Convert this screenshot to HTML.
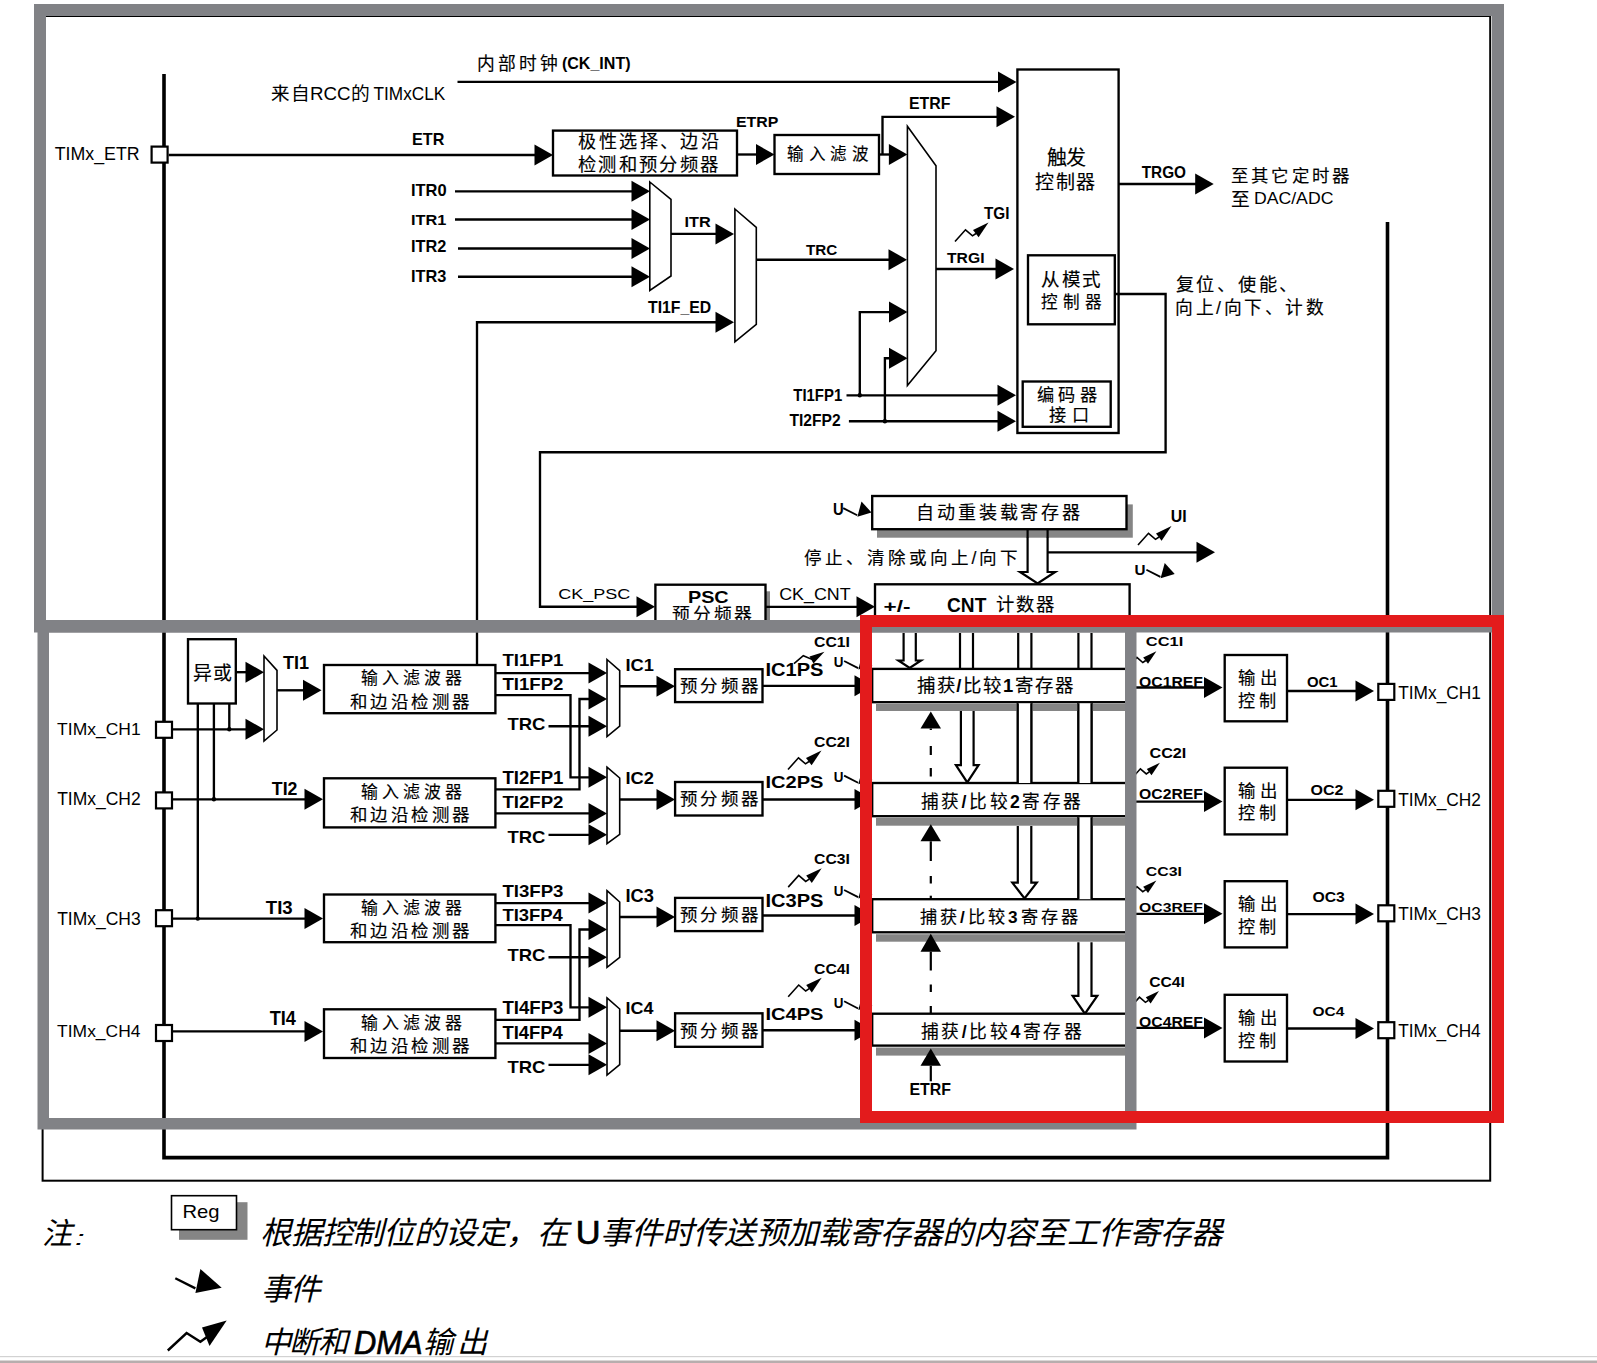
<!DOCTYPE html>
<html lang="zh-CN"><head><meta charset="utf-8"><title>TIMx block diagram</title>
<style>
html,body{margin:0;padding:0;background:#fff;}
body{width:1597px;height:1363px;overflow:hidden;}
svg{display:block;font-family:"Liberation Sans",sans-serif;}
text{fill:#000;}
</style></head><body>
<svg width="1597" height="1363" viewBox="0 0 1597 1363">
<rect width="1597" height="1363" fill="#fff"/>
<path d="M164,74 V1157.6 H1387.5 V222" fill="none" stroke="#000" stroke-width="3.6"/>
<path d="M168.7,155.0 L535.0,155.0" fill="none" stroke="#000" stroke-width="2.35"/>
<polygon points="553.0,155.0 534.5,144.5 534.5,165.5" fill="#000"/>
<rect x="151.6" y="146.6" width="16" height="16" fill="#fff" stroke="#000" stroke-width="2.2"/>
<path d="M457.5,81.9 L1000.0,81.9" fill="none" stroke="#000" stroke-width="2.35"/>
<polygon points="1016.5,81.9 998.0,71.4 998.0,92.4" fill="#000"/>
<rect x="553.0" y="130.6" width="184.0" height="44.9" fill="#fff" stroke="#000" stroke-width="2.35"/>
<path d="M737.0,154.5 L758.0,154.5" fill="none" stroke="#000" stroke-width="2.35"/>
<polygon points="774.5,154.5 756.0,144.0 756.0,165.0" fill="#000"/>
<rect x="774.5" y="135.0" width="104.5" height="39.0" fill="#fff" stroke="#000" stroke-width="2.35"/>
<path d="M879.0,154.5 L891.0,154.5" fill="none" stroke="#000" stroke-width="2.35"/>
<polygon points="907.4,154.5 888.9,144.0 888.9,165.0" fill="#000"/>
<path d="M882.5,154.5 L882.5,116.8 L998.0,116.8" fill="none" stroke="#000" stroke-width="2.35"/>
<polygon points="1015.0,116.8 996.5,106.3 996.5,127.3" fill="#000"/>
<path d="M455.0,191.3 L634.0,191.3" fill="none" stroke="#000" stroke-width="2.35"/>
<polygon points="650.0,191.3 631.5,180.8 631.5,201.8" fill="#000"/>
<path d="M455.0,219.5 L634.0,219.5" fill="none" stroke="#000" stroke-width="2.35"/>
<polygon points="650.0,219.5 631.5,209.0 631.5,230.0" fill="#000"/>
<path d="M458.0,248.5 L634.0,248.5" fill="none" stroke="#000" stroke-width="2.35"/>
<polygon points="650.0,248.5 631.5,238.0 631.5,259.0" fill="#000"/>
<path d="M458.0,276.7 L634.0,276.7" fill="none" stroke="#000" stroke-width="2.35"/>
<polygon points="650.0,276.7 631.5,266.2 631.5,287.2" fill="#000"/>
<polygon points="649.8,182 671,199.5 671,276 649.8,290.5" fill="#fff" stroke="#000" stroke-width="1.6"/>
<path d="M671.0,233.9 L717.0,233.9" fill="none" stroke="#000" stroke-width="2.35"/>
<polygon points="734.0,233.9 715.5,223.4 715.5,244.4" fill="#000"/>
<path d="M477.0,665.0 L477.0,322.2 L717.0,322.2" fill="none" stroke="#000" stroke-width="2.35"/>
<polygon points="734.0,322.2 715.5,311.7 715.5,332.7" fill="#000"/>
<polygon points="734.9,209 756.3,227.4 756.3,324.3 734.9,341.9" fill="#fff" stroke="#000" stroke-width="1.6"/>
<path d="M756.3,259.7 L890.0,259.7" fill="none" stroke="#000" stroke-width="2.35"/>
<polygon points="907.0,259.7 888.5,249.2 888.5,270.2" fill="#000"/>
<polygon points="907.4,126.2 936,165.8 936,350.7 907.4,385.5" fill="#fff" stroke="#000" stroke-width="1.6"/>
<path d="M936.0,269.0 L997.0,269.0" fill="none" stroke="#000" stroke-width="2.35"/>
<polygon points="1014.0,269.0 995.5,258.5 995.5,279.5" fill="#000"/>
<path d="M955.0,241.5 L965.5,229.8 L972.5,235.8 L976.0,233.5" fill="none" stroke="#000" stroke-width="1.6" stroke-linejoin="miter"/>
<polygon points="988.5,222.6 973.0,229.9 978.6,237.3" fill="#000"/>
<path d="M846.5,395.3 L999.0,395.3" fill="none" stroke="#000" stroke-width="2.35"/>
<polygon points="1016.0,395.3 997.5,384.8 997.5,405.8" fill="#000"/>
<path d="M848.9,421.2 L999.0,421.2" fill="none" stroke="#000" stroke-width="2.35"/>
<polygon points="1016.0,421.2 997.5,410.7 997.5,431.7" fill="#000"/>
<path d="M859.8,395.3 L859.8,312.1 L891.0,312.1" fill="none" stroke="#000" stroke-width="2.35"/>
<polygon points="907.5,312.1 889.0,301.6 889.0,322.6" fill="#000"/>
<path d="M884.9,421.2 L884.9,358.2 L891.0,358.2" fill="none" stroke="#000" stroke-width="2.35"/>
<polygon points="907.5,358.2 889.0,347.7 889.0,368.7" fill="#000"/>
<circle cx="859.8" cy="395.3" r="2.2" fill="#000"/>
<circle cx="884.9" cy="421.2" r="2.2" fill="#000"/>
<rect x="1017.4" y="69.5" width="101.2" height="363.5" fill="#fff" stroke="#000" stroke-width="2.35"/>
<rect x="1028.0" y="255.3" width="86.8" height="69.0" fill="#fff" stroke="#000" stroke-width="2.35"/>
<rect x="1022.7" y="381.5" width="88.0" height="45.3" fill="#fff" stroke="#000" stroke-width="2.35"/>
<path d="M1118.6,184.0 L1196.0,184.0" fill="none" stroke="#000" stroke-width="2.35"/>
<polygon points="1213.7,184.0 1195.2,173.5 1195.2,194.5" fill="#000"/>
<path d="M1114.8,294.0 L1165.6,294.0 L1165.6,452.2 L540.0,452.2 L540.0,606.7 L638.0,606.7" fill="none" stroke="#000" stroke-width="2.35"/>
<polygon points="655.0,606.7 636.5,596.2 636.5,617.2" fill="#000"/>
<path d="M1027.6,529 L1027.6,572 L1020.0999999999999,572 L1037.6,583.4 L1055.1,572 L1047.6,572 L1047.6,529" fill="#fff" stroke="#000" stroke-width="2.2" stroke-linejoin="miter"/>
<rect x="877" y="504.4" width="255.79999999999995" height="33.30000000000007" fill="#858585"/>
<rect x="872.2" y="496.0" width="254.3" height="33.2" fill="#fff" stroke="#000" stroke-width="2.35"/>
<path d="M1027.6,529.0 L1027.6,538.0" fill="none" stroke="#000" stroke-width="2.2"/>
<path d="M1047.6,529.0 L1047.6,538.0" fill="none" stroke="#000" stroke-width="2.2"/>
<path d="M843.2,508.1 L857.2,515.2" fill="none" stroke="#000" stroke-width="1.8"/>
<polygon points="871.5,512.5 861.5,501.4 857.4,516.7" fill="#000"/>
<path d="M1047.4,552.3 L1198.0,552.3" fill="none" stroke="#000" stroke-width="2.35"/>
<polygon points="1215.0,552.3 1196.5,541.8 1196.5,562.8" fill="#000"/>
<path d="M1138.0,545.0 L1148.5,533.3 L1155.5,539.3 L1159.0,537.0" fill="none" stroke="#000" stroke-width="1.6" stroke-linejoin="miter"/>
<polygon points="1171.5,526.1 1156.0,533.4 1161.6,540.8" fill="#000"/>
<path d="M1146.4,569.7 L1160.4,576.9" fill="none" stroke="#000" stroke-width="1.8"/>
<polygon points="1174.7,574.1 1164.7,563.0 1160.6,578.3" fill="#000"/>
<rect x="765.5" y="591.3" width="4.5" height="38.700000000000045" fill="#858585"/>
<rect x="655.4" y="584.7" width="110.1" height="45.3" fill="#fff" stroke="#000" stroke-width="2.35"/>
<path d="M765.5,606.8 L858.0,606.8" fill="none" stroke="#000" stroke-width="2.35"/>
<polygon points="875.0,606.8 856.5,596.3 856.5,617.3" fill="#000"/>
<rect x="875.0" y="584.3" width="254.6" height="45.7" fill="#fff" stroke="#000" stroke-width="2.35"/>
<rect x="188.0" y="639.2" width="47.8" height="64.3" fill="#fff" stroke="#000" stroke-width="2.35"/>
<path d="M235.8,672.2 L247.0,672.2" fill="none" stroke="#000" stroke-width="2.35"/>
<polygon points="264.0,672.2 245.5,661.7 245.5,682.7" fill="#000"/>
<path d="M197.8,703.5 L197.8,918.6" fill="none" stroke="#000" stroke-width="2.35"/>
<path d="M213.9,703.5 L213.9,799.3" fill="none" stroke="#000" stroke-width="2.35"/>
<path d="M229.3,703.5 L229.3,729.3" fill="none" stroke="#000" stroke-width="2.35"/>
<circle cx="197.8" cy="918.6" r="2.2" fill="#000"/>
<circle cx="213.9" cy="799.3" r="2.2" fill="#000"/>
<circle cx="229.3" cy="729.3" r="2.2" fill="#000"/>
<polygon points="264,656 277,670.4 277,730 264,741" fill="#fff" stroke="#000" stroke-width="1.6"/>
<path d="M277.0,690.3 L304.0,690.3" fill="none" stroke="#000" stroke-width="2.35"/>
<polygon points="321.5,690.3 303.0,679.8 303.0,700.8" fill="#000"/>
<path d="M172.7,729.3 L247.0,729.3" fill="none" stroke="#000" stroke-width="2.35"/>
<polygon points="264.0,729.3 245.5,718.8 245.5,739.8" fill="#000"/>
<rect x="156.0" y="721.8" width="16" height="16" fill="#fff" stroke="#000" stroke-width="2.2"/>
<path d="M172.7,799.3 L306.0,799.3" fill="none" stroke="#000" stroke-width="2.35"/>
<polygon points="323.0,799.3 304.5,788.8 304.5,809.8" fill="#000"/>
<rect x="156.0" y="792.4" width="16" height="16" fill="#fff" stroke="#000" stroke-width="2.2"/>
<path d="M172.7,918.6 L306.0,918.6" fill="none" stroke="#000" stroke-width="2.35"/>
<polygon points="323.0,918.6 304.5,908.1 304.5,929.1" fill="#000"/>
<rect x="156.0" y="910.2" width="16" height="16" fill="#fff" stroke="#000" stroke-width="2.2"/>
<path d="M172.7,1031.4 L306.0,1031.4" fill="none" stroke="#000" stroke-width="2.35"/>
<polygon points="323.0,1031.4 304.5,1020.9 304.5,1041.9" fill="#000"/>
<rect x="156.0" y="1025.0" width="16" height="16" fill="#fff" stroke="#000" stroke-width="2.2"/>
<rect x="324.0" y="665.0" width="171.4" height="48.2" fill="#fff" stroke="#000" stroke-width="2.35"/>
<rect x="324.0" y="778.3" width="171.4" height="49.1" fill="#fff" stroke="#000" stroke-width="2.35"/>
<rect x="324.0" y="894.5" width="171.4" height="47.7" fill="#fff" stroke="#000" stroke-width="2.35"/>
<rect x="324.0" y="1009.3" width="171.4" height="48.7" fill="#fff" stroke="#000" stroke-width="2.35"/>
<path d="M495.4,673.1 L590.0,673.1" fill="none" stroke="#000" stroke-width="2.35"/>
<polygon points="607.0,673.1 588.5,662.6 588.5,683.6" fill="#000"/>
<path d="M495.4,695.1 L570.5,695.1 L570.5,777.3 L590.0,777.3" fill="none" stroke="#000" stroke-width="2.35"/>
<polygon points="607.0,777.3 588.5,766.8 588.5,787.8" fill="#000"/>
<path d="M495.4,789.3 L579.5,789.3 L579.5,699.0 L590.0,699.0" fill="none" stroke="#000" stroke-width="2.35"/>
<polygon points="607.0,699.0 588.5,688.5 588.5,709.5" fill="#000"/>
<path d="M495.4,813.4 L590.0,813.4" fill="none" stroke="#000" stroke-width="2.35"/>
<polygon points="607.0,813.4 588.5,802.9 588.5,823.9" fill="#000"/>
<path d="M495.4,903.1 L590.0,903.1" fill="none" stroke="#000" stroke-width="2.35"/>
<polygon points="607.0,903.1 588.5,892.6 588.5,913.6" fill="#000"/>
<path d="M495.4,925.1 L570.5,925.1 L570.5,1007.3 L590.0,1007.3" fill="none" stroke="#000" stroke-width="2.35"/>
<polygon points="607.0,1007.3 588.5,996.8 588.5,1017.8" fill="#000"/>
<path d="M495.4,1019.9 L579.5,1019.9 L579.5,929.5 L590.0,929.5" fill="none" stroke="#000" stroke-width="2.35"/>
<polygon points="607.0,929.5 588.5,919.0 588.5,940.0" fill="#000"/>
<path d="M495.4,1043.4 L590.0,1043.4" fill="none" stroke="#000" stroke-width="2.35"/>
<polygon points="607.0,1043.4 588.5,1032.9 588.5,1053.9" fill="#000"/>
<path d="M548.5,726.2 L590.0,726.2" fill="none" stroke="#000" stroke-width="2.35"/>
<polygon points="607.0,726.2 588.5,715.7 588.5,736.7" fill="#000"/>
<path d="M548.5,834.8 L590.0,834.8" fill="none" stroke="#000" stroke-width="2.35"/>
<polygon points="607.0,834.8 588.5,824.3 588.5,845.3" fill="#000"/>
<path d="M548.5,957.2 L590.0,957.2" fill="none" stroke="#000" stroke-width="2.35"/>
<polygon points="607.0,957.2 588.5,946.7 588.5,967.7" fill="#000"/>
<path d="M548.5,1064.8 L590.0,1064.8" fill="none" stroke="#000" stroke-width="2.35"/>
<polygon points="607.0,1064.8 588.5,1054.3 588.5,1075.3" fill="#000"/>
<polygon points="607,659.5 619.7,670.7 619.7,726.2 607,736.5" fill="#fff" stroke="#000" stroke-width="1.6"/>
<polygon points="607,767.2 619.7,778 619.7,834.3 607,843.7" fill="#fff" stroke="#000" stroke-width="1.6"/>
<polygon points="607,890.7 619.7,902 619.7,957.4 607,967.4" fill="#fff" stroke="#000" stroke-width="1.6"/>
<polygon points="607,997.9 619.7,1009 619.7,1064.6 607,1075" fill="#fff" stroke="#000" stroke-width="1.6"/>
<path d="M619.7,686.2 L658.0,686.2" fill="none" stroke="#000" stroke-width="2.35"/>
<polygon points="675.0,686.2 656.5,675.7 656.5,696.7" fill="#000"/>
<rect x="675.1" y="669.2" width="87.4" height="32.9" fill="#fff" stroke="#000" stroke-width="2.35"/>
<path d="M619.7,799.5 L658.0,799.5" fill="none" stroke="#000" stroke-width="2.35"/>
<polygon points="675.0,799.5 656.5,789.0 656.5,810.0" fill="#000"/>
<rect x="675.1" y="782.0" width="87.4" height="33.5" fill="#fff" stroke="#000" stroke-width="2.35"/>
<path d="M619.7,917.0 L658.0,917.0" fill="none" stroke="#000" stroke-width="2.35"/>
<polygon points="675.0,917.0 656.5,906.5 656.5,927.5" fill="#000"/>
<rect x="675.1" y="897.9" width="87.4" height="33.2" fill="#fff" stroke="#000" stroke-width="2.35"/>
<path d="M619.7,1030.7 L658.0,1030.7" fill="none" stroke="#000" stroke-width="2.35"/>
<polygon points="675.0,1030.7 656.5,1020.2 656.5,1041.2" fill="#000"/>
<rect x="675.1" y="1013.3" width="87.4" height="33.5" fill="#fff" stroke="#000" stroke-width="2.35"/>
<path d="M762.5,685.8 L856.0,685.8" fill="none" stroke="#000" stroke-width="2.35"/>
<polygon points="873.0,685.8 854.5,675.3 854.5,696.3" fill="#000"/>
<path d="M762.5,799.5 L856.0,799.5" fill="none" stroke="#000" stroke-width="2.35"/>
<polygon points="873.0,799.5 854.5,789.0 854.5,810.0" fill="#000"/>
<path d="M762.5,915.5 L856.0,915.5" fill="none" stroke="#000" stroke-width="2.35"/>
<polygon points="873.0,915.5 854.5,905.0 854.5,926.0" fill="#000"/>
<path d="M762.5,1030.2 L856.0,1030.2" fill="none" stroke="#000" stroke-width="2.35"/>
<polygon points="873.0,1030.2 854.5,1019.7 854.5,1040.7" fill="#000"/>
<path d="M794.0,663.6 L803.3,655.7 L811.5,659.2 L814.0,658.0" fill="none" stroke="#000" stroke-width="1.6" stroke-linejoin="miter"/>
<polygon points="824.5,651.7 809.5,656.5 813.5,663.5" fill="#000"/>
<path d="M788.0,769.5 L798.5,757.8 L805.5,763.8 L809.0,761.5" fill="none" stroke="#000" stroke-width="1.6" stroke-linejoin="miter"/>
<polygon points="821.5,750.6 806.0,757.9 811.6,765.3" fill="#000"/>
<path d="M788.2,887.1 L798.7,875.4 L805.7,881.4 L809.2,879.1" fill="none" stroke="#000" stroke-width="1.6" stroke-linejoin="miter"/>
<polygon points="821.7,868.2 806.2,875.5 811.8,882.9" fill="#000"/>
<path d="M788.2,996.7 L798.7,985.0 L805.7,991.0 L809.2,988.7" fill="none" stroke="#000" stroke-width="1.6" stroke-linejoin="miter"/>
<polygon points="821.7,977.8 806.2,985.1 811.8,992.5" fill="#000"/>
<path d="M844.1,661.0 L858.1,668.1" fill="none" stroke="#000" stroke-width="1.8"/>
<polygon points="872.4,665.4 862.4,654.3 858.3,669.6" fill="#000"/>
<path d="M844.1,775.6 L858.1,782.8" fill="none" stroke="#000" stroke-width="1.8"/>
<polygon points="872.4,780.0 862.4,768.9 858.3,784.2" fill="#000"/>
<path d="M844.1,890.0 L858.1,897.1" fill="none" stroke="#000" stroke-width="1.8"/>
<polygon points="872.4,894.4 862.4,883.3 858.3,898.6" fill="#000"/>
<path d="M844.1,1001.3 L858.1,1008.5" fill="none" stroke="#000" stroke-width="1.8"/>
<polygon points="872.4,1005.7 862.4,994.6 858.3,1009.9" fill="#000"/>
<path d="M903.6,633 L903.6,660.5 L898.4,660.5 L909.7,668 L921.0,660.5 L915.8,660.5 L915.8,633" fill="#fff" stroke="#000" stroke-width="2.2" stroke-linejoin="miter"/>
<rect x="960" y="633" width="13" height="36" fill="#fff" stroke="none"/>
<path d="M960.0,633.0 L960.0,669.0" fill="none" stroke="#000" stroke-width="2.2"/>
<path d="M973.0,633.0 L973.0,669.0" fill="none" stroke="#000" stroke-width="2.2"/>
<rect x="1018.2" y="633" width="13.200000000000045" height="36" fill="#fff" stroke="none"/>
<path d="M1018.2,633.0 L1018.2,669.0" fill="none" stroke="#000" stroke-width="2.2"/>
<path d="M1031.4,633.0 L1031.4,669.0" fill="none" stroke="#000" stroke-width="2.2"/>
<rect x="1078.4" y="633" width="13.099999999999909" height="36" fill="#fff" stroke="none"/>
<path d="M1078.4,633.0 L1078.4,669.0" fill="none" stroke="#000" stroke-width="2.2"/>
<path d="M1091.5,633.0 L1091.5,669.0" fill="none" stroke="#000" stroke-width="2.2"/>
<path d="M960.9,711 L960.9,765.2 L955.9,765.2 L967.25,782.4 L978.6,765.2 L973.6,765.2 L973.6,711" fill="#fff" stroke="#000" stroke-width="2.2" stroke-linejoin="miter"/>
<rect x="1017.8" y="702" width="13.5" height="81" fill="#fff" stroke="none"/>
<path d="M1017.8,702.0 L1017.8,783.0" fill="none" stroke="#000" stroke-width="2.2"/>
<path d="M1031.3,702.0 L1031.3,783.0" fill="none" stroke="#000" stroke-width="2.2"/>
<rect x="1078.4" y="702" width="13.099999999999909" height="81" fill="#fff" stroke="none"/>
<path d="M1078.4,702.0 L1078.4,783.0" fill="none" stroke="#000" stroke-width="2.2"/>
<path d="M1091.5,702.0 L1091.5,783.0" fill="none" stroke="#000" stroke-width="2.2"/>
<path d="M1017.8,826 L1017.8,882.6 L1012.3,882.6 L1024.55,898.5 L1036.8,882.6 L1031.3,882.6 L1031.3,826" fill="#fff" stroke="#000" stroke-width="2.2" stroke-linejoin="miter"/>
<rect x="1078.4" y="816" width="13.099999999999909" height="83.20000000000005" fill="#fff" stroke="none"/>
<path d="M1078.4,816.0 L1078.4,899.2" fill="none" stroke="#000" stroke-width="2.2"/>
<path d="M1091.5,816.0 L1091.5,899.2" fill="none" stroke="#000" stroke-width="2.2"/>
<path d="M1078.4,942.3 L1078.4,995.8 L1072.6000000000001,995.8 L1084.95,1013.7 L1097.3,995.8 L1091.5,995.8 L1091.5,942.3" fill="#fff" stroke="#000" stroke-width="2.2" stroke-linejoin="miter"/>
<rect x="876" y="704" width="254" height="7" fill="#858585"/>
<rect x="872.2" y="668.9" width="257.8" height="33.3" fill="#fff" stroke="#000" stroke-width="2.35"/>
<rect x="876" y="818" width="254" height="7.7000000000000455" fill="#858585"/>
<rect x="872.2" y="783.0" width="257.8" height="33.2" fill="#fff" stroke="#000" stroke-width="2.35"/>
<rect x="876" y="934.2" width="254" height="7.5" fill="#858585"/>
<rect x="872.2" y="899.2" width="257.8" height="33.1" fill="#fff" stroke="#000" stroke-width="2.35"/>
<rect x="876" y="1047.5" width="254" height="8.099999999999909" fill="#858585"/>
<rect x="872.2" y="1013.7" width="257.8" height="31.9" fill="#fff" stroke="#000" stroke-width="2.35"/>
<rect x="1017.8" y="703.5" width="13.5" height="79.5" fill="#fff" stroke="none"/>
<path d="M1017.8,703.5 L1017.8,783.0" fill="none" stroke="#000" stroke-width="2.2"/>
<path d="M1031.3,703.5 L1031.3,783.0" fill="none" stroke="#000" stroke-width="2.2"/>
<rect x="1078.4" y="703.5" width="13.099999999999909" height="79.5" fill="#fff" stroke="none"/>
<path d="M1078.4,703.5 L1078.4,783.0" fill="none" stroke="#000" stroke-width="2.2"/>
<path d="M1091.5,703.5 L1091.5,783.0" fill="none" stroke="#000" stroke-width="2.2"/>
<rect x="1078.4" y="817.5" width="13.099999999999909" height="81.70000000000005" fill="#fff" stroke="none"/>
<path d="M1078.4,817.5 L1078.4,899.2" fill="none" stroke="#000" stroke-width="2.2"/>
<path d="M1091.5,817.5 L1091.5,899.2" fill="none" stroke="#000" stroke-width="2.2"/>
<polygon points="930.8,711.6 920.5,728.5 941.0,728.5" fill="#000"/>
<path d="M930.8,728.5 L930.8,730.0" fill="none" stroke="#000" stroke-width="2.2"/>
<path d="M930.8,746.0 L930.8,755.0" fill="none" stroke="#000" stroke-width="2.2"/>
<path d="M930.8,768.0 L930.8,776.5" fill="none" stroke="#000" stroke-width="2.2"/>
<polygon points="930.8,824.3 920.5,841.3 941.0,841.3" fill="#000"/>
<path d="M930.8,841.3 L930.8,861.0" fill="none" stroke="#000" stroke-width="2.2"/>
<path d="M930.8,876.0 L930.8,883.5" fill="none" stroke="#000" stroke-width="2.2"/>
<path d="M930.8,895.7 L930.8,899.0" fill="none" stroke="#000" stroke-width="2.2"/>
<polygon points="930.8,933.8 920.5,951.7 941.0,951.7" fill="#000"/>
<path d="M930.8,951.7 L930.8,970.5" fill="none" stroke="#000" stroke-width="2.2"/>
<path d="M930.8,984.5 L930.8,992.0" fill="none" stroke="#000" stroke-width="2.2"/>
<path d="M930.8,1006.0 L930.8,1013.0" fill="none" stroke="#000" stroke-width="2.2"/>
<polygon points="930.8,1048.5 920.5,1065.7 941.0,1065.7" fill="#000"/>
<path d="M930.8,1065.7 L930.8,1081.3" fill="none" stroke="#000" stroke-width="2.2"/>
<path d="M1136.0,687.5 L1205.0,687.5" fill="none" stroke="#000" stroke-width="2.35"/>
<polygon points="1222.5,687.5 1204.0,677.0 1204.0,698.0" fill="#000"/>
<path d="M1136.0,801.6 L1205.0,801.6" fill="none" stroke="#000" stroke-width="2.35"/>
<polygon points="1222.5,801.6 1204.0,791.1 1204.0,812.1" fill="#000"/>
<path d="M1136.0,913.8 L1205.0,913.8" fill="none" stroke="#000" stroke-width="2.35"/>
<polygon points="1222.5,913.8 1204.0,903.3 1204.0,924.3" fill="#000"/>
<path d="M1136.0,1027.9 L1205.0,1027.9" fill="none" stroke="#000" stroke-width="2.35"/>
<polygon points="1222.5,1027.9 1204.0,1017.4 1204.0,1038.4" fill="#000"/>
<path d="M1128.0,667.3 L1136.9,657.4 L1142.8,662.5 L1145.8,660.5" fill="none" stroke="#000" stroke-width="1.6" stroke-linejoin="miter"/>
<polygon points="1156.4,651.3 1143.2,657.5 1148.0,663.8" fill="#000"/>
<path d="M1131.5,778.7 L1140.4,768.8 L1146.3,773.9 L1149.3,771.9" fill="none" stroke="#000" stroke-width="1.6" stroke-linejoin="miter"/>
<polygon points="1159.9,762.7 1146.8,768.9 1151.5,775.2" fill="#000"/>
<path d="M1128.0,896.5 L1136.9,886.6 L1142.8,891.7 L1145.8,889.7" fill="none" stroke="#000" stroke-width="1.6" stroke-linejoin="miter"/>
<polygon points="1156.4,880.5 1143.2,886.7 1148.0,893.0" fill="#000"/>
<path d="M1130.5,1007.1 L1139.5,997.2 L1145.4,1002.3 L1148.4,1000.3" fill="none" stroke="#000" stroke-width="1.6" stroke-linejoin="miter"/>
<polygon points="1159.0,991.1 1145.8,997.3 1150.6,1003.6" fill="#000"/>
<rect x="1224.7" y="655.0" width="62.3" height="66.3" fill="#fff" stroke="#000" stroke-width="2.35"/>
<rect x="1224.7" y="767.7" width="62.3" height="66.7" fill="#fff" stroke="#000" stroke-width="2.35"/>
<rect x="1224.7" y="881.2" width="62.3" height="66.2" fill="#fff" stroke="#000" stroke-width="2.35"/>
<rect x="1224.7" y="994.8" width="62.3" height="66.7" fill="#fff" stroke="#000" stroke-width="2.35"/>
<path d="M1287.0,691.0 L1357.0,691.0" fill="none" stroke="#000" stroke-width="2.35"/>
<polygon points="1374.0,691.0 1355.5,680.5 1355.5,701.5" fill="#000"/>
<path d="M1287.0,799.8 L1357.0,799.8" fill="none" stroke="#000" stroke-width="2.35"/>
<polygon points="1374.0,799.8 1355.5,789.3 1355.5,810.3" fill="#000"/>
<path d="M1287.0,914.1 L1357.0,914.1" fill="none" stroke="#000" stroke-width="2.35"/>
<polygon points="1374.0,914.1 1355.5,903.6 1355.5,924.6" fill="#000"/>
<path d="M1287.0,1028.5 L1357.0,1028.5" fill="none" stroke="#000" stroke-width="2.35"/>
<polygon points="1374.0,1028.5 1355.5,1018.0 1355.5,1039.0" fill="#000"/>
<rect x="1378.3" y="683.9" width="16" height="16" fill="#fff" stroke="#000" stroke-width="2.2"/>
<rect x="1378.3" y="790.8" width="16" height="16" fill="#fff" stroke="#000" stroke-width="2.2"/>
<rect x="1378.3" y="905.3" width="16" height="16" fill="#fff" stroke="#000" stroke-width="2.2"/>
<rect x="1378.3" y="1022.2" width="16" height="16" fill="#fff" stroke="#000" stroke-width="2.2"/>
<rect x="42.6" y="16" width="1447.6" height="1164.7" fill="none" stroke="#000" stroke-width="2"/>
<rect x="179" y="1202.2" width="68.5" height="37.6" fill="#858585"/>
<rect x="171.5" y="1195.7" width="65" height="34" fill="#fff" stroke="#000" stroke-width="1.6"/>
<path d="M175.3,1278.3 L195.4,1288.4" fill="none" stroke="#000" stroke-width="2.4"/>
<polygon points="200.4,1269 221.7,1287.8 195.4,1293" fill="#000"/>
<path d="M167.8,1350.5 L186.6,1333 L200.4,1341.7 L207,1337" fill="none" stroke="#000" stroke-width="2.4"/>
<polygon points="226.7,1320.4 202,1327.5 209.5,1346" fill="#000"/>
<text x="54.72" y="160.00" font-size="18.92" textLength="84.89" lengthAdjust="spacingAndGlyphs">TIMx_ETR</text>
<text x="411.99" y="145.20" font-size="16.64" font-weight="bold" textLength="32.32" lengthAdjust="spacingAndGlyphs">ETR</text>
<text x="477.01" y="69.70" font-size="17.78" stroke="#000" stroke-width="0.15" letter-spacing="2.99">内部时钟</text>
<text x="561.95" y="69.30" font-size="16.92" font-weight="bold" textLength="68.63" lengthAdjust="spacingAndGlyphs">(CK_INT)</text>
<text x="271.12" y="100.30" font-size="18.48" stroke="#000" stroke-width="0.15">来</text>
<text x="290.93" y="100.20" font-size="17.64" textLength="78.84" lengthAdjust="spacingAndGlyphs">自RCC的</text>
<text x="373.53" y="100.20" font-size="17.64" textLength="71.75" lengthAdjust="spacingAndGlyphs">TIMxCLK</text>
<text x="578.19" y="148.45" font-size="18.17" stroke="#000" stroke-width="0.15" letter-spacing="2.44">极性选择、边沿</text>
<text x="577.90" y="171.16" font-size="18.34" stroke="#000" stroke-width="0.15" letter-spacing="2.35">检测和预分频器</text>
<text x="736.01" y="126.70" font-size="15.22" font-weight="bold" textLength="42.41" lengthAdjust="spacingAndGlyphs">ETRP</text>
<text x="787.00" y="159.65" font-size="16.59" stroke="#000" stroke-width="0.15" letter-spacing="4.61">输入滤波</text>
<text x="909.01" y="108.60" font-size="15.64" font-weight="bold" textLength="41.51" lengthAdjust="spacingAndGlyphs">ETRF</text>
<text x="410.97" y="196.00" font-size="15.93" font-weight="bold" textLength="35.70" lengthAdjust="spacingAndGlyphs">ITR0</text>
<text x="410.98" y="224.50" font-size="15.50" font-weight="bold" textLength="35.43" lengthAdjust="spacingAndGlyphs">ITR1</text>
<text x="410.98" y="252.20" font-size="15.64" font-weight="bold" textLength="35.43" lengthAdjust="spacingAndGlyphs">ITR2</text>
<text x="410.98" y="281.50" font-size="16.36" font-weight="bold" textLength="35.43" lengthAdjust="spacingAndGlyphs">ITR3</text>
<text x="684.58" y="226.80" font-size="14.51" font-weight="bold" textLength="26.23" lengthAdjust="spacingAndGlyphs">ITR</text>
<text x="648.00" y="312.50" font-size="15.64" font-weight="bold" textLength="63.05" lengthAdjust="spacingAndGlyphs">TI1F_ED</text>
<text x="806.00" y="255.00" font-size="14.93" font-weight="bold" textLength="31.29" lengthAdjust="spacingAndGlyphs">TRC</text>
<text x="947.00" y="262.60" font-size="15.36" font-weight="bold" textLength="37.53" lengthAdjust="spacingAndGlyphs">TRGI</text>
<text x="984.00" y="218.60" font-size="15.79" font-weight="bold" textLength="25.50" lengthAdjust="spacingAndGlyphs">TGI</text>
<text x="793.30" y="401.30" font-size="15.64" font-weight="bold" textLength="48.87" lengthAdjust="spacingAndGlyphs">TI1FP1</text>
<text x="789.50" y="425.80" font-size="15.64" font-weight="bold" textLength="51.19" lengthAdjust="spacingAndGlyphs">TI2FP2</text>
<text x="1046.60" y="165.46" font-size="20.00" stroke="#000" stroke-width="0.15" letter-spacing="-1.08">触发</text>
<text x="1035.30" y="188.69" font-size="19.02" stroke="#000" stroke-width="0.15" letter-spacing="1.50">控制器</text>
<text x="1041.02" y="285.62" font-size="18.52" stroke="#000" stroke-width="0.15" letter-spacing="1.74">从模式</text>
<text x="1040.70" y="307.83" font-size="16.62" stroke="#000" stroke-width="0.15" letter-spacing="5.06">控制器</text>
<text x="1037.00" y="401.05" font-size="17.21" stroke="#000" stroke-width="0.15" letter-spacing="4.28">编码器</text>
<text x="1048.80" y="421.15" font-size="17.21" stroke="#000" stroke-width="0.15" letter-spacing="6.13">接口</text>
<text x="1141.70" y="177.90" font-size="16.07" font-weight="bold" textLength="44.33" lengthAdjust="spacingAndGlyphs">TRGO</text>
<text x="1230.54" y="181.64" font-size="17.41" stroke="#000" stroke-width="0.15" letter-spacing="3.36">至其它定时器</text>
<text x="1230.52" y="205.73" font-size="18.72" stroke="#000" stroke-width="0.15">至</text>
<text x="1253.92" y="204.30" font-size="15.79" textLength="79.49" lengthAdjust="spacingAndGlyphs">DAC/ADC</text>
<text x="1175.73" y="291.17" font-size="18.22" stroke="#000" stroke-width="0.15" letter-spacing="2.75">复位、使能、</text>
<text x="1174.90" y="313.52" font-size="17.76" stroke="#000" stroke-width="0.15" letter-spacing="2.61">向上/向下、计数</text>
<text x="916.34" y="518.89" font-size="18.06" stroke="#000" stroke-width="0.15" letter-spacing="2.80">自动重装载寄存器</text>
<text x="832.90" y="514.60" font-size="15.79" font-weight="bold" textLength="10.75" lengthAdjust="spacingAndGlyphs">U</text>
<text x="1170.86" y="522.00" font-size="16.07" font-weight="bold" textLength="15.88" lengthAdjust="spacingAndGlyphs">UI</text>
<text x="1134.59" y="575.00" font-size="15.36" font-weight="bold" textLength="10.98" lengthAdjust="spacingAndGlyphs">U</text>
<text x="804.40" y="563.50" font-size="17.59" stroke="#000" stroke-width="0.15" letter-spacing="2.89">停止、清除或向上/向下</text>
<text x="687.96" y="602.50" font-size="15.93" font-weight="bold" textLength="40.71" lengthAdjust="spacingAndGlyphs">PSC</text>
<text x="672.00" y="620.70" font-size="17.82" stroke="#000" stroke-width="0.15" letter-spacing="2.78">预分频器</text>
<text x="558.16" y="599.30" font-size="14.65" textLength="72.07" lengthAdjust="spacingAndGlyphs">CK_PSC</text>
<text x="779.16" y="599.70" font-size="16.07" textLength="71.54" lengthAdjust="spacingAndGlyphs">CK_CNT</text>
<text x="883.50" y="611.60" font-size="16.07" font-weight="bold" textLength="26.92" lengthAdjust="spacingAndGlyphs">+/-</text>
<text x="947.10" y="611.60" font-size="20.05" font-weight="bold" textLength="39.22" lengthAdjust="spacingAndGlyphs">CNT</text>
<text x="995.70" y="610.66" font-size="18.34" stroke="#000" stroke-width="0.15" letter-spacing="2.07">计数器</text>
<text x="192.72" y="679.60" font-size="18.91" stroke="#000" stroke-width="0.15" letter-spacing="1.55">异或</text>
<text x="283.00" y="669.40" font-size="17.92" font-weight="bold" textLength="26.05" lengthAdjust="spacingAndGlyphs">TI1</text>
<text x="271.80" y="795.00" font-size="18.92" font-weight="bold" textLength="25.64" lengthAdjust="spacingAndGlyphs">TI2</text>
<text x="265.80" y="913.60" font-size="18.77" font-weight="bold" textLength="26.86" lengthAdjust="spacingAndGlyphs">TI3</text>
<text x="269.70" y="1025.40" font-size="19.34" font-weight="bold" textLength="26.18" lengthAdjust="spacingAndGlyphs">TI4</text>
<text x="57.13" y="734.80" font-size="16.92" textLength="83.58" lengthAdjust="spacingAndGlyphs">TIMx_CH1</text>
<text x="57.13" y="805.30" font-size="17.92" textLength="83.58" lengthAdjust="spacingAndGlyphs">TIMx_CH2</text>
<text x="57.13" y="924.80" font-size="17.78" textLength="83.58" lengthAdjust="spacingAndGlyphs">TIMx_CH3</text>
<text x="57.13" y="1036.70" font-size="17.35" textLength="83.31" lengthAdjust="spacingAndGlyphs">TIMx_CH4</text>
<text x="361.00" y="684.32" font-size="16.93" stroke="#000" stroke-width="0.15" letter-spacing="4.10">输入滤波器</text>
<text x="350.00" y="707.51" font-size="17.47" stroke="#000" stroke-width="0.15" letter-spacing="3.45">和边沿检测器</text>
<text x="361.00" y="797.62" font-size="16.93" stroke="#000" stroke-width="0.15" letter-spacing="4.10">输入滤波器</text>
<text x="350.00" y="820.81" font-size="17.47" stroke="#000" stroke-width="0.15" letter-spacing="3.45">和边沿检测器</text>
<text x="361.00" y="913.82" font-size="16.93" stroke="#000" stroke-width="0.15" letter-spacing="4.10">输入滤波器</text>
<text x="350.00" y="937.01" font-size="17.47" stroke="#000" stroke-width="0.15" letter-spacing="3.45">和边沿检测器</text>
<text x="361.00" y="1028.62" font-size="16.93" stroke="#000" stroke-width="0.15" letter-spacing="4.10">输入滤波器</text>
<text x="350.00" y="1051.81" font-size="17.47" stroke="#000" stroke-width="0.15" letter-spacing="3.45">和边沿检测器</text>
<text x="502.40" y="666.00" font-size="17.07" font-weight="bold" textLength="61.06" lengthAdjust="spacingAndGlyphs">TI1FP1</text>
<text x="502.40" y="690.00" font-size="15.64" font-weight="bold" textLength="61.06" lengthAdjust="spacingAndGlyphs">TI1FP2</text>
<text x="507.40" y="730.00" font-size="17.07" font-weight="bold" textLength="37.95" lengthAdjust="spacingAndGlyphs">TRC</text>
<text x="502.40" y="784.00" font-size="18.06" font-weight="bold" textLength="61.06" lengthAdjust="spacingAndGlyphs">TI2FP1</text>
<text x="502.40" y="808.40" font-size="17.21" font-weight="bold" textLength="61.06" lengthAdjust="spacingAndGlyphs">TI2FP2</text>
<text x="507.40" y="843.40" font-size="17.07" font-weight="bold" textLength="37.95" lengthAdjust="spacingAndGlyphs">TRC</text>
<text x="502.40" y="897.00" font-size="16.07" font-weight="bold" textLength="61.06" lengthAdjust="spacingAndGlyphs">TI3FP3</text>
<text x="502.40" y="921.10" font-size="15.79" font-weight="bold" textLength="60.48" lengthAdjust="spacingAndGlyphs">TI3FP4</text>
<text x="507.40" y="961.20" font-size="17.07" font-weight="bold" textLength="37.95" lengthAdjust="spacingAndGlyphs">TRC</text>
<text x="502.40" y="1013.90" font-size="17.92" font-weight="bold" textLength="61.06" lengthAdjust="spacingAndGlyphs">TI4FP3</text>
<text x="502.40" y="1039.00" font-size="17.49" font-weight="bold" textLength="60.48" lengthAdjust="spacingAndGlyphs">TI4FP4</text>
<text x="507.40" y="1073.00" font-size="17.07" font-weight="bold" textLength="37.95" lengthAdjust="spacingAndGlyphs">TRC</text>
<text x="625.46" y="670.70" font-size="17.35" font-weight="bold" textLength="28.50" lengthAdjust="spacingAndGlyphs">IC1</text>
<text x="680.00" y="692.43" font-size="17.47" stroke="#000" stroke-width="0.15" letter-spacing="3.30">预分频器</text>
<text x="625.46" y="783.90" font-size="17.07" font-weight="bold" textLength="28.50" lengthAdjust="spacingAndGlyphs">IC2</text>
<text x="680.00" y="805.23" font-size="17.47" stroke="#000" stroke-width="0.15" letter-spacing="3.30">预分频器</text>
<text x="625.46" y="902.40" font-size="17.92" font-weight="bold" textLength="28.50" lengthAdjust="spacingAndGlyphs">IC3</text>
<text x="680.00" y="921.13" font-size="17.47" stroke="#000" stroke-width="0.15" letter-spacing="3.30">预分频器</text>
<text x="625.48" y="1014.40" font-size="16.78" font-weight="bold" textLength="27.91" lengthAdjust="spacingAndGlyphs">IC4</text>
<text x="680.00" y="1036.53" font-size="17.47" stroke="#000" stroke-width="0.15" letter-spacing="3.30">预分频器</text>
<text x="765.44" y="676.40" font-size="18.20" font-weight="bold" textLength="58.09" lengthAdjust="spacingAndGlyphs">IC1PS</text>
<text x="765.44" y="788.20" font-size="17.35" font-weight="bold" textLength="58.09" lengthAdjust="spacingAndGlyphs">IC2PS</text>
<text x="765.44" y="907.30" font-size="18.20" font-weight="bold" textLength="58.09" lengthAdjust="spacingAndGlyphs">IC3PS</text>
<text x="765.44" y="1019.50" font-size="17.35" font-weight="bold" textLength="58.09" lengthAdjust="spacingAndGlyphs">IC4PS</text>
<text x="814.11" y="647.30" font-size="14.65" font-weight="bold" textLength="35.82" lengthAdjust="spacingAndGlyphs">CC1I</text>
<text x="814.11" y="746.50" font-size="14.22" font-weight="bold" textLength="35.82" lengthAdjust="spacingAndGlyphs">CC2I</text>
<text x="814.11" y="864.40" font-size="14.79" font-weight="bold" textLength="35.82" lengthAdjust="spacingAndGlyphs">CC3I</text>
<text x="814.11" y="973.80" font-size="13.94" font-weight="bold" textLength="35.82" lengthAdjust="spacingAndGlyphs">CC4I</text>
<text x="833.77" y="667.40" font-size="15.22" font-weight="bold" textLength="9.71" lengthAdjust="spacingAndGlyphs">U</text>
<text x="833.77" y="782.00" font-size="15.22" font-weight="bold" textLength="9.71" lengthAdjust="spacingAndGlyphs">U</text>
<text x="833.77" y="896.40" font-size="14.79" font-weight="bold" textLength="9.71" lengthAdjust="spacingAndGlyphs">U</text>
<text x="833.77" y="1007.70" font-size="13.94" font-weight="bold" textLength="9.71" lengthAdjust="spacingAndGlyphs">U</text>
<text x="916.70" y="692.18" font-size="18.44" stroke="#000" stroke-width="0.15" letter-spacing="1.83">捕获<tspan font-weight="bold" stroke-width="0">/</tspan>比较<tspan font-weight="bold" stroke-width="0">1</tspan>寄存器</text>
<text x="920.50" y="807.56" font-size="17.67" stroke="#000" stroke-width="0.15" letter-spacing="2.53">捕获<tspan font-weight="bold" stroke-width="0">/</tspan>比较<tspan font-weight="bold" stroke-width="0">2</tspan>寄存器</text>
<text x="920.00" y="922.80" font-size="17.22" stroke="#000" stroke-width="0.15" letter-spacing="3.03">捕获<tspan font-weight="bold" stroke-width="0">/</tspan>比较<tspan font-weight="bold" stroke-width="0">3</tspan>寄存器</text>
<text x="920.50" y="1038.25" font-size="17.78" stroke="#000" stroke-width="0.15" letter-spacing="2.58">捕获<tspan font-weight="bold" stroke-width="0">/</tspan>比较<tspan font-weight="bold" stroke-width="0">4</tspan>寄存器</text>
<text x="909.51" y="1094.50" font-size="15.64" font-weight="bold" textLength="41.51" lengthAdjust="spacingAndGlyphs">ETRF</text>
<text x="1139.11" y="686.70" font-size="14.51" font-weight="bold" textLength="63.81" lengthAdjust="spacingAndGlyphs">OC1REF</text>
<text x="1139.11" y="799.00" font-size="15.08" font-weight="bold" textLength="63.81" lengthAdjust="spacingAndGlyphs">OC2REF</text>
<text x="1139.11" y="912.40" font-size="13.65" font-weight="bold" textLength="63.81" lengthAdjust="spacingAndGlyphs">OC3REF</text>
<text x="1139.11" y="1026.50" font-size="13.94" font-weight="bold" textLength="63.81" lengthAdjust="spacingAndGlyphs">OC4REF</text>
<text x="1145.79" y="646.30" font-size="13.65" font-weight="bold" textLength="37.49" lengthAdjust="spacingAndGlyphs">CC1I</text>
<text x="1149.50" y="758.20" font-size="13.94" font-weight="bold" textLength="36.76" lengthAdjust="spacingAndGlyphs">CC2I</text>
<text x="1145.80" y="876.40" font-size="13.65" font-weight="bold" textLength="36.13" lengthAdjust="spacingAndGlyphs">CC3I</text>
<text x="1149.31" y="987.00" font-size="13.80" font-weight="bold" textLength="35.61" lengthAdjust="spacingAndGlyphs">CC4I</text>
<text x="1237.80" y="684.01" font-size="17.47" stroke="#000" stroke-width="0.15" letter-spacing="4.98">输出</text>
<text x="1237.80" y="706.78" font-size="17.19" stroke="#000" stroke-width="0.15" letter-spacing="3.88">控制</text>
<text x="1237.80" y="796.71" font-size="17.47" stroke="#000" stroke-width="0.15" letter-spacing="4.98">输出</text>
<text x="1237.80" y="819.48" font-size="17.19" stroke="#000" stroke-width="0.15" letter-spacing="3.88">控制</text>
<text x="1237.80" y="910.21" font-size="17.47" stroke="#000" stroke-width="0.15" letter-spacing="4.98">输出</text>
<text x="1237.80" y="932.98" font-size="17.19" stroke="#000" stroke-width="0.15" letter-spacing="3.88">控制</text>
<text x="1237.80" y="1023.81" font-size="17.47" stroke="#000" stroke-width="0.15" letter-spacing="4.98">输出</text>
<text x="1237.80" y="1046.58" font-size="17.19" stroke="#000" stroke-width="0.15" letter-spacing="3.88">控制</text>
<text x="1306.93" y="687.10" font-size="14.65" font-weight="bold" textLength="30.64" lengthAdjust="spacingAndGlyphs">OC1</text>
<text x="1310.50" y="795.20" font-size="14.79" font-weight="bold" textLength="32.90" lengthAdjust="spacingAndGlyphs">OC2</text>
<text x="1312.51" y="901.50" font-size="13.94" font-weight="bold" textLength="32.38" lengthAdjust="spacingAndGlyphs">OC3</text>
<text x="1312.52" y="1015.60" font-size="13.23" font-weight="bold" textLength="31.89" lengthAdjust="spacingAndGlyphs">OC4</text>
<text x="1398.23" y="698.80" font-size="17.64" textLength="82.77" lengthAdjust="spacingAndGlyphs">TIMx_CH1</text>
<text x="1398.23" y="805.70" font-size="17.64" textLength="82.77" lengthAdjust="spacingAndGlyphs">TIMx_CH2</text>
<text x="1398.23" y="920.20" font-size="17.64" textLength="82.77" lengthAdjust="spacingAndGlyphs">TIMx_CH3</text>
<text x="1398.23" y="1037.10" font-size="17.64" textLength="82.50" lengthAdjust="spacingAndGlyphs">TIMx_CH4</text>
<text x="182.42" y="1218.30" font-size="17.49" textLength="37.12" lengthAdjust="spacingAndGlyphs">Reg</text>
<text x="42.15" y="1244.45" font-size="30.06" font-style="italic">注</text>
<text x="74.86" y="1245.00" font-size="19.91" font-style="italic" textLength="10.16" lengthAdjust="spacingAndGlyphs">:</text>
<text x="260.03" y="1244.20" font-size="31.44" font-style="italic" letter-spacing="-0.21">根据控制位的设定，在</text>
<text x="575.85" y="1244.20" font-size="32.57" stroke="#000" stroke-width="0.7" textLength="24.81" lengthAdjust="spacingAndGlyphs">U</text>
<text x="600.05" y="1244.20" font-size="31.44" font-style="italic" letter-spacing="0.10">事件时传送预加载寄存器的内容至工作寄存器</text>
<text x="260.80" y="1299.99" font-size="30.64" font-style="italic" letter-spacing="-1.70">事件</text>
<text x="260.70" y="1353.42" font-size="30.29" font-style="italic" letter-spacing="-1.21">中断和</text>
<text x="354.02" y="1353.60" font-size="32.85" stroke="#000" stroke-width="0.7" font-style="italic" textLength="68.48" lengthAdjust="spacingAndGlyphs">DMA</text>
<text x="423.06" y="1353.42" font-size="30.29" font-style="italic" letter-spacing="3.82">输出</text>
<path d="M34,4 H1504 V632.5 H34 Z M46,16 V620 H1492 V16 Z" fill="#818286" fill-rule="evenodd"/>
<path d="M37.5,620 H1136.5 V1129.5 H37.5 Z M49,632.5 V1118 H1125 V632.5 Z" fill="#818286" fill-rule="evenodd"/>
<path d="M860,615 H1504 V1123 H860 Z M872,627 V1111 H1492 V627 Z" fill="#e31b1c" fill-rule="evenodd"/>
<rect x="0" y="1355.6" width="1597" height="8" fill="#fff"/>
<rect x="0" y="1356" width="1597" height="1.2" fill="#d2d2d2"/>
<rect x="0" y="1360.5" width="1597" height="2.5" fill="#b7adad"/>
</svg>
</body></html>
